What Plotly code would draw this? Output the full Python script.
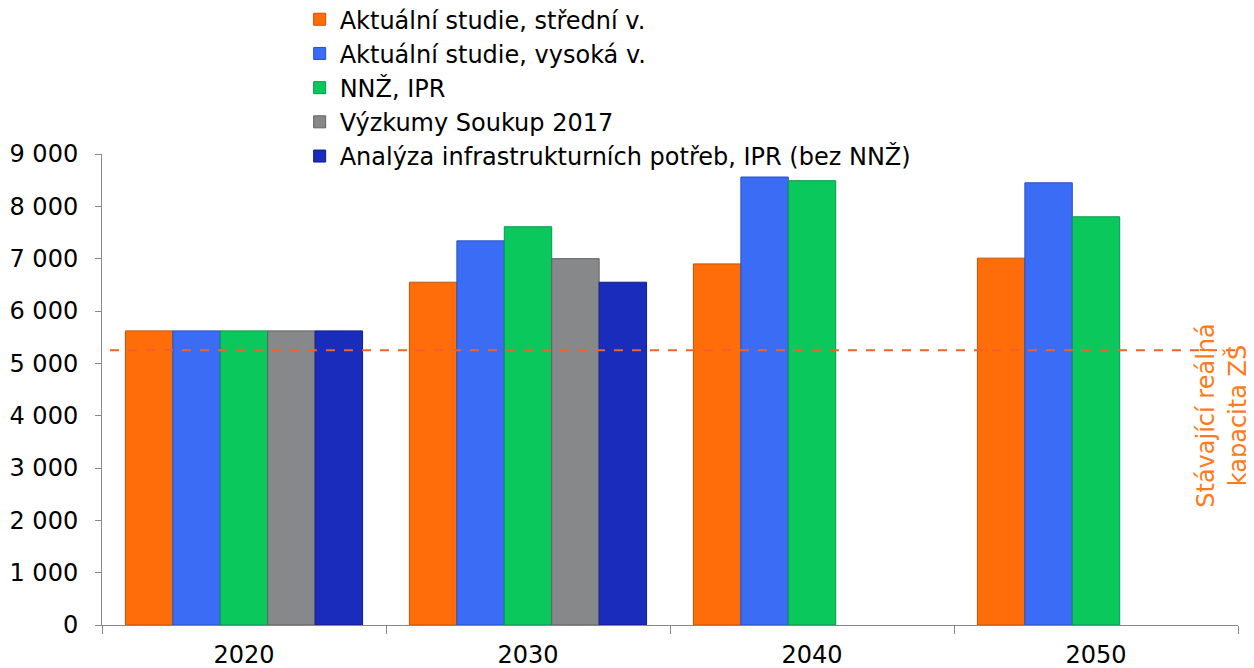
import plotly.graph_objects as go

categories = ["2020", "2030", "2040", "2050"]
series_names = [
    "Aktuální studie, střední v.",
    "Aktuální studie, vysoká v.",
    "NNŽ, IPR",
    "Výzkumy Soukup 2017",
    "Analýza infrastrukturních potřeb, IPR (bez NNŽ)",
]
stredni = [5620, 6550, 6900, 7010]
vysoka = [5620, 7340, 8560, 8450]
nnz_ipr = [5620, 7610, 8490, 7800]
soukup = [5620, 7000, None, None]
analyza = [5620, 6550, None, None]
capacity = 5250
capacity_label = "Stávající reálná<br>kapacita ZŠ"
y_ticks = [0, 1000, 2000, 3000, 4000, 5000, 6000, 7000, 8000, 9000]

colors = ["#FF6D0A", "#3B6CF6", "#0AC85C", "#87888A", "#1A2CBC"]
edges = ["#C85200", "#2A50C0", "#07994A", "#606062", "#101E88"]
values = [stredni, vysoka, nnz_ipr, soukup, analyza]

font = "DejaVu Sans, Verdana, sans-serif"
fs = 24

fig = go.Figure()
for name, vals, c, e in zip(series_names, values, colors, edges):
    fig.add_trace(go.Bar(
        x=categories, y=vals, name=name,
        marker=dict(color=c, line=dict(color=e, width=1)),
    ))

fig.add_shape(type="line", xref="paper", yref="y", x0=0.007, x1=1.0,
              y0=capacity, y1=capacity,
              line=dict(color="#F0622D", width=2, dash="dash"))

fig.add_annotation(text=capacity_label, xref="paper", yref="y",
                   x=0.986, y=4000, textangle=-90, showarrow=False,
                   xanchor="center", yanchor="middle",
                   font=dict(family=font, size=fs, color="#FF7A1A"))

fig.update_layout(
    width=1246, height=660,
    margin=dict(l=94, r=16, t=146, b=43, autoexpand=False),
    plot_bgcolor="white", paper_bgcolor="white",
    barmode="group", bargap=0.165, bargroupgap=0,
    separators=", ",
    font=dict(family=font, size=fs, color="#000000"),
    showlegend=True,
    legend=dict(x=0.174, y=1.333, xanchor="left", yanchor="top",
                yref="paper", bgcolor="rgba(0,0,0,0)",
                font=dict(family=font, size=fs), itemwidth=30,
                tracegroupgap=0),
    xaxis=dict(type="category", showline=True, linecolor="#888888", linewidth=1,
               ticks="outside", tickson="boundaries", ticklen=8, tickcolor="#888888",
               ticklabelstandoff=8,
               tickfont=dict(family=font, size=fs)),
    yaxis=dict(range=[0, 9000], tickvals=y_ticks, tickformat=",d",
               showline=True, linecolor="#888888", linewidth=1,
               ticks="outside", ticklen=6, tickcolor="#888888",
               ticklabelstandoff=12,
               showgrid=False, zeroline=False,
               tickfont=dict(family=font, size=fs)),
)

fig.write_html("out.html")
